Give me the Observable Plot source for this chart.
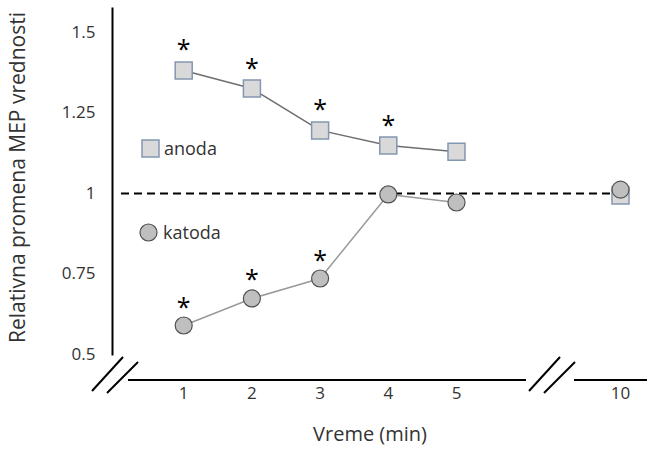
<!DOCTYPE html>
<html>
<head>
<meta charset="utf-8">
<script src="https://cdn.jsdelivr.net/npm/d3@7"></script>
<script src="https://cdn.jsdelivr.net/npm/@observablehq/plot@0.6"></script>
<style>
  html, body { margin: 0; padding: 0; background: #fff; }
  #wrap { position: relative; width: 647px; height: 455px; font-family: "Open Sans", sans-serif; }
  .leg { position: absolute; display: flex; align-items: center; font-size: 18px; color: #333; }
  .leg svg { margin-right: 4px; }
</style>
</head>
<body>
<div id="wrap"></div>
<script>
// ---- data ----
const times = [1, 2, 3, 4, 5, 10];
const anoda = [1.382, 1.326, 1.196, 1.149, 1.130, 0.994];
const katoda = [0.590, 0.674, 0.736, 0.997, 0.972, 1.012];
const anodaSignificant = [true, true, true, true, false, false];
const katodaSignificant = [true, true, true, false, false, false];
const yTicks = [0.5, 0.75, 1, 1.25, 1.5];
const yTickLabels = ["0.5", "0.75", "1", "1.25", "1.5"];
const xTickLabels = ["1", "2", "3", "4", "5", "10"];
const seriesNames = ["anoda", "katoda"];
const yLabel = "Relativna promena MEP vrednosti";
const xLabel = "Vreme (min)";
const referenceLine = [1];

const rowsA = times.map((t, i) => ({t, v: anoda[i], sig: anodaSignificant[i]}));
const rowsK = times.map((t, i) => ({t, v: katoda[i], sig: katodaSignificant[i]}));
const contiguous = d => d.t <= 5;

const textColor = "#333333";

// broken x axis decoration
function brokenAxis(index, scales, values, dims) {
  const g = d3.create("svg:g").attr("stroke", "#000").attr("stroke-width", 2).attr("fill", "none");
  const yAx = scales.y(0.5) + 26;
  const x0 = scales.x(0), x5 = scales.x(5), x10 = scales.x(10);
  g.append("line").attr("x1", x0 + 13).attr("x2", x5 + 70).attr("y1", yAx).attr("y2", yAx);
  g.append("line").attr("x1", x10 - 46).attr("x2", dims.width).attr("y1", yAx).attr("y2", yAx);
  const brk = (cx) => {
    g.append("line").attr("x1", cx - 23).attr("y1", yAx + 11).attr("x2", cx + 8).attr("y2", yAx - 23);
    g.append("line").attr("x1", cx - 8).attr("y1", yAx + 13).attr("x2", cx + 23).attr("y2", yAx - 18);
  };
  brk(x0 + 0);
  brk(x5 + 96);
  return g.node();
}

const plot = Plot.plot({
  width: 647,
  height: 455,
  marginLeft: 112,
  marginRight: 20,
  marginTop: 8,
  marginBottom: 101,
  style: {fontFamily: "'Open Sans', sans-serif", background: "transparent"},
  x: {type: "linear", domain: [0, 5, 10], range: [115, 456, 620], axis: null},
  y: {domain: [0.5, 1.5], range: [354, 32], axis: null},
  marks: [
    Plot.frame({anchor: "left", stroke: "#000", strokeWidth: 2}),
    brokenAxis,
    Plot.text(yTicks, {y: d => d, frameAnchor: "left", text: (d, i) => yTickLabels[i],
      textAnchor: "end", dx: -17, fontSize: 17, fill: textColor}),
    Plot.text(times, {x: d => d, frameAnchor: "bottom", text: (d, i) => xTickLabels[i],
      dy: 44, fontSize: 17, fill: textColor}),
    Plot.text([yLabel], {frameAnchor: "left", text: d => d, textAnchor: "middle", rotate: -90, dx: -94, dy: -4, fontSize: 21, fill: textColor}),
    Plot.text([xLabel], {frameAnchor: "bottom", text: d => d, textAnchor: "middle", dy: 86, fontSize: 20, fill: textColor}),
    Plot.ruleY(referenceLine, {stroke: "#000", strokeWidth: 2, strokeDasharray: "8,5", insetLeft: 9}),
    Plot.line(rowsA.filter(contiguous), {x: "t", y: "v", stroke: "#6e6e6e", strokeWidth: 1.5}),
    Plot.line(rowsK.filter(contiguous), {x: "t", y: "v", stroke: "#9a9a9a", strokeWidth: 1.5}),
    Plot.dot(rowsA, {x: "t", y: "v", symbol: "square", r: 9.6, fill: "#d9d9d9", stroke: "#8497b0", strokeWidth: 1.5}),
    Plot.dot(rowsK, {x: "t", y: "v", symbol: "circle", r: 8.5, fill: "#bfbfbf", stroke: "#505050", strokeWidth: 1.2}),
    Plot.text(rowsA.filter(d => d.sig), {x: "t", y: "v", text: () => "*", dy: -20, fontSize: 25, fill: "#000"}),
    Plot.text(rowsK.filter(d => d.sig), {x: "t", y: "v", text: () => "*", dy: -18, fontSize: 25, fill: "#000"})
  ]
});

const wrap = document.getElementById("wrap");
wrap.appendChild(plot);

const legA = document.createElement("div");
legA.className = "leg";
legA.style.left = "141px"; legA.style.top = "136px";
legA.innerHTML = `<svg width="19" height="19"><rect x="1" y="1" width="17" height="17" fill="#d9d9d9" stroke="#8497b0" stroke-width="1.5"/></svg><span>${seriesNames[0]}</span>`;
wrap.appendChild(legA);
const legK = document.createElement("div");
legK.className = "leg";
legK.style.left = "138px"; legK.style.top = "220px";
legK.innerHTML = `<svg width="21" height="21"><circle cx="10.5" cy="10.5" r="8.5" fill="#bfbfbf" stroke="#505050" stroke-width="1.2"/></svg><span>${seriesNames[1]}</span>`;
wrap.appendChild(legK);
</script>
</body>
</html>
